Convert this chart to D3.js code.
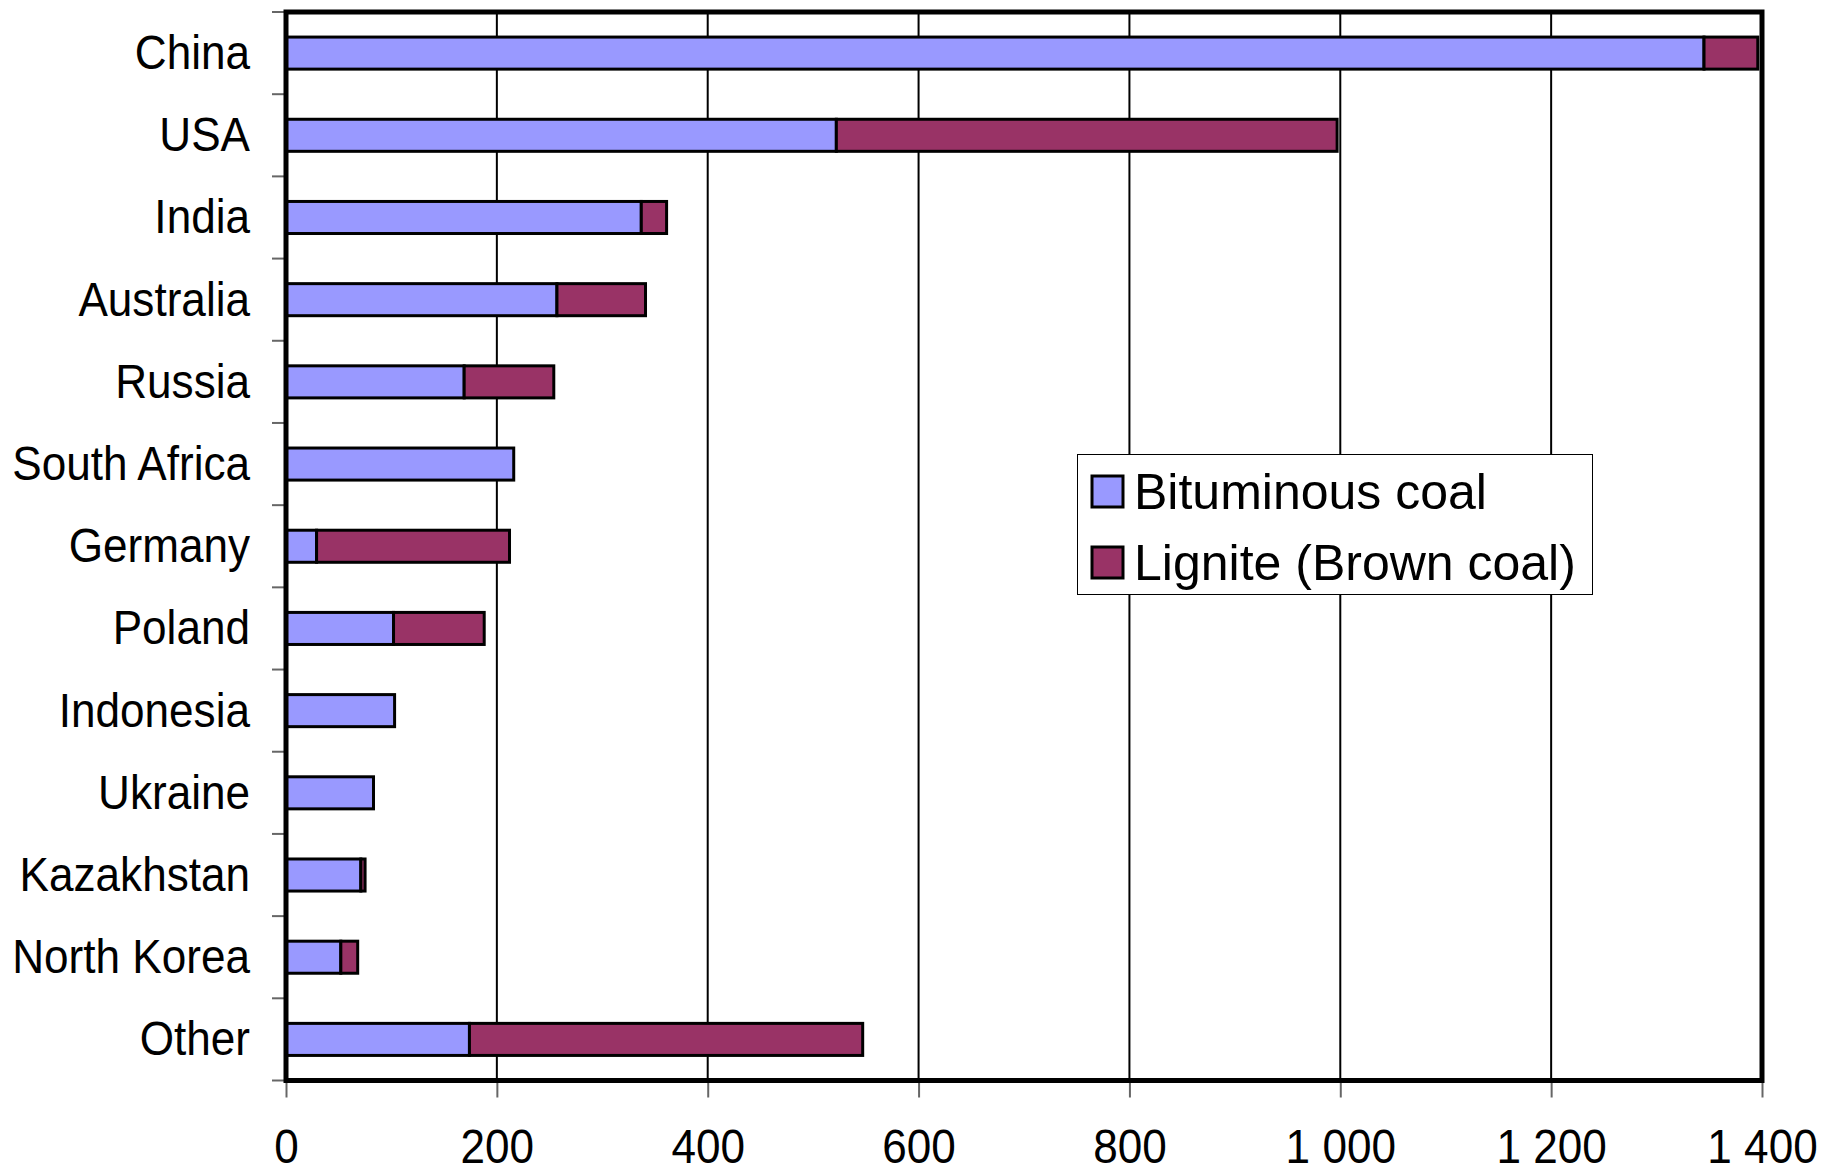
<!DOCTYPE html>
<html><head><meta charset="utf-8">
<script src="https://cdn.jsdelivr.net/npm/d3@7"></script>
<style>html,body{margin:0;padding:0;background:#fff;}svg{display:block;}</style>
</head><body>
<svg id="chart" width="1833" height="1175"></svg>
<script>
const categories = ["China","USA","India","Australia","Russia","South Africa","Germany","Poland","Indonesia","Ukraine","Kazakhstan","North Korea","Other"];
const bituminous = [1345, 522, 337, 257, 169, 216, 29, 102, 103, 83, 71, 52, 174];
const lignite    = [51, 475, 24, 84, 85, 0, 183, 86, 0, 0, 4, 16, 373];
const seriesNames = ["Bituminous coal", "Lignite (Brown coal)"];
const seriesColors = ["#9999FF", "#993366"];
const xTicks = [0, 200, 400, 600, 800, 1000, 1200, 1400];

const svg = d3.select("#chart");
const L = 286, R = 1762, T = 12, B = 1080.5;
const font = "'Liberation Sans', Arial, sans-serif";

const x = d3.scaleLinear().domain([0, 1400]).range([L, R]);
const y = d3.scaleBand().domain(categories).range([T, B]).paddingInner(0.61).paddingOuter(0.305);

const fmt = d3.formatLocale({decimal: ".", thousands: " ", grouping: [3], currency: ["", ""]}).format(",");

// gridlines
svg.append("g").selectAll("line").data(xTicks.filter(d => d > 0 && d < 1400)).join("line")
  .attr("x1", d => x(d)).attr("x2", d => x(d)).attr("y1", T).attr("y2", B)
  .attr("stroke", "#000").attr("stroke-width", 2);

// bars
const rows = categories.map((c, i) => ({c, b: bituminous[i], l: lignite[i]}));
const gb = svg.append("g");
rows.forEach(r => {
  gb.append("rect").attr("x", x(0)).attr("y", y(r.c)).attr("width", x(r.b) - x(0)).attr("height", y.bandwidth())
    .attr("fill", seriesColors[0]).attr("stroke", "#000").attr("stroke-width", 3);
  if (r.l > 0) {
    gb.append("rect").attr("x", x(r.b)).attr("y", y(r.c)).attr("width", x(r.b + r.l) - x(r.b)).attr("height", y.bandwidth())
      .attr("fill", seriesColors[1]).attr("stroke", "#000").attr("stroke-width", 3);
  }
});

// y ticks at band boundaries
const step = y.step();
const bounds = d3.range(categories.length + 1).map(i => T + i * step);
svg.append("g").selectAll("line").data(bounds).join("line")
  .attr("x1", L - 14).attr("x2", L).attr("y1", d => d).attr("y2", d => d)
  .attr("stroke", "#666").attr("stroke-width", 2);

// y labels
svg.append("g").selectAll("text").data(categories).join("text")
  .attr("transform", d => `translate(250,${y(d) + y.bandwidth() / 2 + 16}) scale(0.9,1)`)
  .attr("text-anchor", "end").attr("font-family", font).attr("font-size", 49).attr("fill", "#000")
  .text(d => d);

// x axis
const xa = svg.append("g").attr("transform", `translate(0,${B})`)
  .call(d3.axisBottom(x).tickValues(xTicks).tickFormat(fmt).tickSize(17).tickPadding(0));
xa.select(".domain").remove();
xa.selectAll(".tick line").attr("stroke", "#666").attr("stroke-width", 2);
xa.selectAll(".tick text").attr("font-family", font).attr("font-size", 49).attr("fill", "#000")
  .attr("dy", null).attr("y", 83).attr("transform", "scale(0.9,1)");

// frame
svg.append("rect").attr("x", L).attr("y", T).attr("width", R - L).attr("height", B - T)
  .attr("fill", "none").attr("stroke", "#000").attr("stroke-width", 5);

// legend
const lg = svg.append("g");
lg.append("rect").attr("x", 1077.5).attr("y", 454.5).attr("width", 515).attr("height", 140)
  .attr("fill", "#fff").attr("stroke", "#000").attr("stroke-width", 1);
seriesNames.forEach((n, i) => {
  const yy = 476 + i * 71;
  lg.append("rect").attr("x", 1092).attr("y", yy).attr("width", 31).attr("height", 31)
    .attr("fill", seriesColors[i]).attr("stroke", "#000").attr("stroke-width", 3);
  lg.append("text").attr("x", 1134).attr("y", yy + 33).attr("font-family", font).attr("font-size", 50)
    .attr("fill", "#000").text(n);
});
</script>
</body></html>
